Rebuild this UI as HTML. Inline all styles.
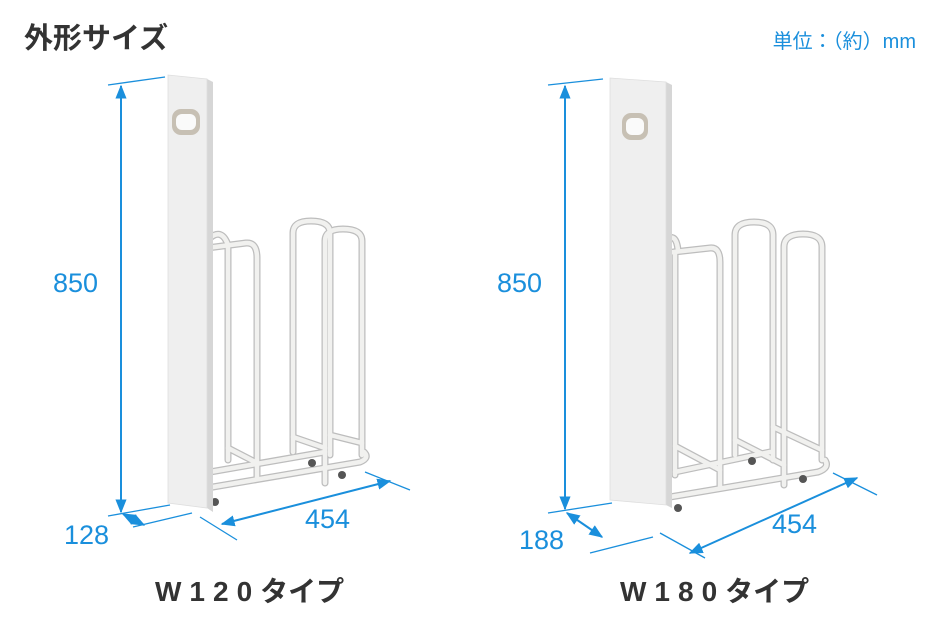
<!DOCTYPE html>
<html><head><meta charset="utf-8"><style>
html,body{margin:0;padding:0;background:#fff;}
svg{display:block;}
text{font-family:"Liberation Sans","Noto Sans CJK JP",sans-serif;}
</style></head><body>
<svg width="940" height="627" viewBox="0 0 940 627" xmlns="http://www.w3.org/2000/svg">
<defs>
<marker id="ah" viewBox="0 0 10 10" refX="9" refY="5" markerWidth="7" markerHeight="7" orient="auto-start-reverse"><path d="M0,1 L10,5 L0,9 Z" fill="#1a8fdc"/></marker>
</defs>
<text x="24" y="48" font-size="29" font-weight="bold" fill="#333" font-family="'Noto Sans CJK JP',sans-serif">外形サイズ</text>
<text x="916" y="48" font-size="20" fill="#1a8fdc" text-anchor="end" font-family="'Liberation Sans','Noto Sans CJK JP',sans-serif">単位：（約）mm</text>

<!-- ===== LEFT ===== -->
<g stroke="#1a8fdc" stroke-width="1.3" fill="none">
<line x1="108" y1="85" x2="165" y2="77"/>
<line x1="108" y1="516" x2="170" y2="505"/>
<line x1="121" y1="86" x2="121" y2="512" marker-start="url(#ah)" marker-end="url(#ah)" stroke-width="2"/>
<line x1="133" y1="527" x2="192" y2="513"/>
<line x1="123" y1="514" x2="144" y2="525" marker-start="url(#ah)" marker-end="url(#ah)" stroke-width="2"/>
<line x1="200" y1="517" x2="237" y2="540"/>
<line x1="365" y1="472" x2="410" y2="490"/>
<line x1="222" y1="524" x2="390" y2="481" marker-start="url(#ah)" marker-end="url(#ah)" stroke-width="2"/>
</g>
<text x="53" y="292" font-size="27" fill="#1a8fdc">850</text>
<text x="64" y="544" font-size="27" fill="#1a8fdc">128</text>
<text x="305" y="528" font-size="27" fill="#1a8fdc">454</text>

<g fill="none" stroke-linecap="round" stroke-linejoin="round">
<g stroke="#bdbdbd" stroke-width="7">
<path d="M210,238 Q222,228 228,245"/>
<path d="M228,247 V460"/>
<path d="M207,248 L246,243 Q257,242 257,258 V478"/>
<path d="M293,452 V233 Q293,221 311,221 Q330,221 330,233 V455"/>
<path d="M325,483 V241 Q325,229 343,229 Q362,229 362,241 V455"/>
<path d="M207,488 L360,462 Q370,458 364,452"/>
<path d="M210,472 L325,452"/>
<path d="M228,448 L257,463"/><path d="M293,437 L325,448"/><path d="M330,435 L362,443"/>
</g>
<g stroke="#f1f1ef" stroke-width="4.5">
<path d="M210,238 Q222,228 228,245"/>
<path d="M228,247 V460"/>
<path d="M207,248 L246,243 Q257,242 257,258 V478"/>
<path d="M293,452 V233 Q293,221 311,221 Q330,221 330,233 V455"/>
<path d="M325,483 V241 Q325,229 343,229 Q362,229 362,241 V455"/>
<path d="M207,488 L360,462 Q370,458 364,452"/>
<path d="M210,472 L325,452"/>
<path d="M228,448 L257,463"/><path d="M293,437 L325,448"/><path d="M330,435 L362,443"/>
</g>
</g>
<g fill="#555"><circle cx="215" cy="502" r="4"/><circle cx="312" cy="463" r="4"/><circle cx="342" cy="475" r="4"/></g>
<polygon points="207,79 213,82 213,512 207,508" fill="#d6d6d6"/>
<polygon points="168,75 207,79 207,508 168,503" fill="#efefef" stroke="#dedede" stroke-width="0.8"/>
<rect x="172" y="109" width="28" height="26" rx="9" fill="#c7c0b4"/>
<rect x="176" y="114" width="20" height="16" rx="6" fill="#fafafa"/>
<text x="155" y="601" font-size="28" font-weight="bold" fill="#333" letter-spacing="8">W120<tspan font-family="'Noto Sans CJK JP',sans-serif" letter-spacing="0">タイプ</tspan></text>

<!-- ===== RIGHT ===== -->
<g stroke="#1a8fdc" stroke-width="1.3" fill="none">
<line x1="548" y1="85" x2="603" y2="79"/>
<line x1="548" y1="513" x2="612" y2="503"/>
<line x1="565" y1="86" x2="565" y2="509" marker-start="url(#ah)" marker-end="url(#ah)" stroke-width="2"/>
<line x1="590" y1="553" x2="653" y2="537"/>
<line x1="567" y1="513" x2="602" y2="537" marker-start="url(#ah)" marker-end="url(#ah)" stroke-width="2"/>
<line x1="660" y1="533" x2="705" y2="558"/>
<line x1="833" y1="473" x2="877" y2="495"/>
<line x1="690" y1="553" x2="857" y2="478" marker-start="url(#ah)" marker-end="url(#ah)" stroke-width="2"/>
</g>
<text x="497" y="292" font-size="27" fill="#1a8fdc">850</text>
<text x="519" y="549" font-size="27" fill="#1a8fdc">188</text>
<text x="772" y="533" font-size="27" fill="#1a8fdc">454</text>

<g fill="none" stroke-linecap="round" stroke-linejoin="round">
<g stroke="#bdbdbd" stroke-width="7">
<path d="M666,240 Q676,232 678,250"/>
<path d="M675,252 V475"/>
<path d="M665,253 L710,248 Q720,247 720,262 V487"/>
<path d="M735,455 V235 Q735,222 754,222 Q773,222 773,235 V460"/>
<path d="M784,485 V247 Q784,234 803,234 Q822,234 822,247 V460"/>
<path d="M670,497 L818,472 Q830,468 825,460"/>
<path d="M675,472 L770,452"/>
<path d="M675,446 L720,470"/><path d="M735,440 L784,465"/><path d="M773,427 L822,450"/>
</g>
<g stroke="#f1f1ef" stroke-width="4.5">
<path d="M666,240 Q676,232 678,250"/>
<path d="M675,252 V475"/>
<path d="M665,253 L710,248 Q720,247 720,262 V487"/>
<path d="M735,455 V235 Q735,222 754,222 Q773,222 773,235 V460"/>
<path d="M784,485 V247 Q784,234 803,234 Q822,234 822,247 V460"/>
<path d="M670,497 L818,472 Q830,468 825,460"/>
<path d="M675,472 L770,452"/>
<path d="M675,446 L720,470"/><path d="M735,440 L784,465"/><path d="M773,427 L822,450"/>
</g>
</g>
<g fill="#555"><circle cx="678" cy="508" r="4"/><circle cx="752" cy="461" r="4"/><circle cx="803" cy="479" r="4"/></g>
<polygon points="666,82 672,85 672,508 666,505" fill="#d6d6d6"/>
<polygon points="610,78 666,82 666,505 610,500" fill="#efefef" stroke="#dedede" stroke-width="0.8"/>
<rect x="622" y="113" width="26" height="27" rx="9" fill="#c7c0b4"/>
<rect x="626" y="118" width="18" height="17" rx="6" fill="#fafafa"/>
<text x="620" y="601" font-size="28" font-weight="bold" fill="#333" letter-spacing="8">W180<tspan font-family="'Noto Sans CJK JP',sans-serif" letter-spacing="0">タイプ</tspan></text>
</svg>
</body></html>
